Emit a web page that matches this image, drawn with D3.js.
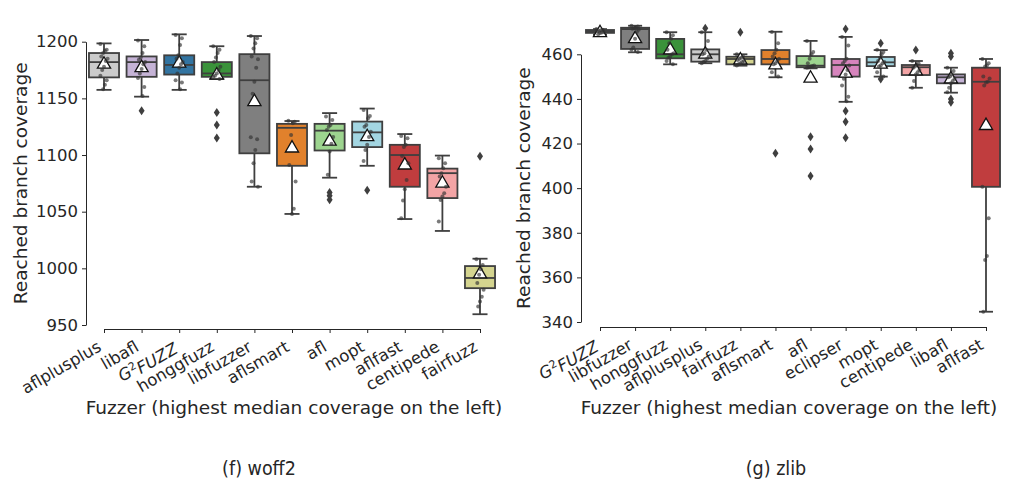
<!DOCTYPE html>
<html>
<head>
<meta charset="utf-8">
<script src="https://d3js.org/d3.v7.min.js"></script>
<style>
  body { margin: 0; background: #fff; }
  svg text { font-family: "DejaVu Sans", sans-serif; fill: #262626; }
  .caption { font-family: "Liberation Sans Narrow", "DejaVu Sans Condensed", sans-serif; }
</style>
</head>
<body>
<div id="chart"></div>
<script>
// ---- woff2 (left) ----
var fuzzersW = ["aflplusplus", "libafl", "G2FUZZ", "honggfuzz", "libfuzzer", "aflsmart", "afl", "mopt", "aflfast", "centipede", "fairfuzz"];
var whisHiW = [1198.5, 1201.5, 1206.5, 1196, 1205, 1130, 1137, 1141, 1118.5, 1099.5, 1008.5];
var q3W     = [1190, 1187, 1188, 1182, 1189, 1127.5, 1127.5, 1129.5, 1109, 1088, 1002];
var medW    = [1182, 1182, 1179.5, 1172, 1166, 1124, 1121.5, 1120, 1100, 1084, 991.5];
var q1W     = [1168.5, 1169, 1171, 1169, 1101.5, 1090.5, 1104, 1107, 1072, 1062, 982.5];
var whisLoW = [1157.5, 1151.5, 1157.5, 1167, 1072, 1048, 1080, 1090.5, 1043.5, 1033, 959.5];
var meanW   = [1180, 1177, 1181, 1170.5, 1147, 1106, 1112, 1116, 1091, 1075, 995];
var outW    = [[], [1139], [], [1137.5, 1126.5, 1115], [], [], [1067, 1064, 1060.5], [1069], [], [], [1099]];
var ptsW = [
  [1198, 1193, 1192, 1190, 1187, 1185, 1183, 1178, 1175, 1170, 1166, 1162, 1158],
  [1201, 1196, 1190, 1186, 1184, 1182, 1180, 1176, 1172, 1168, 1160, 1152],
  [1206, 1203, 1197, 1188, 1185, 1182, 1180, 1177, 1172, 1166, 1164, 1158],
  [1196, 1193, 1190, 1186, 1182, 1178, 1175, 1172, 1170, 1169, 1167],
  [1205, 1203, 1198.6, 1194, 1187, 1184.5, 1177, 1164.7, 1154, 1115.7, 1114, 1104.5, 1092.8, 1076.6, 1072],
  [1130.3, 1129.4, 1128, 1117.7, 1091.3, 1076.6, 1052.5, 1048],
  [1134, 1131, 1126.5, 1125, 1122, 1116, 1110, 1103, 1082.5],
  [1139.8, 1134.5, 1132.5, 1126.5, 1125, 1120.6, 1116, 1109, 1104.5, 1094.8],
  [1116.8, 1114.8, 1109, 1107, 1099.2, 1092.8, 1078, 1069.8, 1059.8, 1044.3],
  [1097.2, 1092.8, 1088.4, 1084, 1081, 1072, 1066.3, 1063.3, 1060.4, 1041.3],
  [1008, 1003, 999.3, 994.3, 987, 981, 975, 970.7, 966.3]
];
var ticksW = [950, 1000, 1050, 1100, 1150, 1200];

// ---- zlib (right) ----
var fuzzersZ = ["G2FUZZ", "libfuzzer", "honggfuzz", "aflplusplus", "fairfuzz", "aflsmart", "afl", "eclipser", "mopt", "centipede", "libafl", "aflfast"];
var whisHiZ = [471.3, 472.8, 469.9, 469.9, 460, 470.1, 466, 467.8, 461.9, 457, 454, 457.9];
var q3Z     = [470.9, 471.9, 466.9, 462.2, 458.9, 461.9, 459.2, 457.9, 458.8, 455.2, 451, 454];
var medZ    = [470.4, 471.3, 460, 460, 457.9, 457.9, 454.9, 455.2, 456.4, 454.2, 449.7, 447.7];
var q1Z     = [469.6, 462.4, 458.2, 456.7, 455.5, 455.5, 454.2, 450, 454.7, 450.7, 447, 400.6];
var whisLoZ = [468.8, 460.9, 455.5, 456, 454.9, 449.7, 453.7, 438.7, 450, 445, 442.8, 344.6];
var meanZ   = [469.6, 466.9, 461.9, 460, 457.4, 455.2, 449.2, 451.5, 455.5, 452.5, 448.9, 428];
var outZ    = [[], [], [], [471.7], [469.9], [415.6], [423, 417.5, 405.4], [471.3, 434.6, 429.8, 422.6], [464.9, 448.9], [461.9], [460.5, 459, 440, 438.5], []];
var ptsZ = [
  [471.3, 471, 470.8, 470.5, 470.3, 470, 469.8, 469.5, 469],
  [472.8, 472.5, 472, 471.8, 471.5, 471, 470, 467, 463, 462, 461],
  [469.9, 468.5, 467, 465, 462, 460.5, 460, 459, 458.5, 457, 455.5],
  [469.9, 466, 462, 460.5, 460, 459, 458, 457, 456.5, 456],
  [460, 459, 458.5, 458, 457.5, 457, 456.5, 456, 455.5, 455],
  [470, 465, 462, 460.5, 459, 458, 457, 456, 455.5, 452, 450],
  [466, 461, 460, 458, 456, 455, 454.8, 454.5, 454.2, 454],
  [467.8, 464, 458, 457, 456, 455, 453, 451, 449, 446, 441, 439],
  [462, 461, 460, 458.5, 457, 456.5, 456, 455, 454.5, 452, 450],
  [457, 456, 455.2, 454.5, 454, 453, 452, 451, 448, 445],
  [454, 452.5, 451, 450, 449.7, 449, 448, 447, 445, 443],
  [457.9, 456, 455, 454.5, 450, 449.2, 447.7, 447.4, 446, 400.6, 386.5, 369.6, 367.8, 344.6]
];
var ticksZ = [340, 360, 380, 400, 420, 440, 460];

var colors = {
  aflplusplus: "#cbcbcb", libafl: "#c5b3d6", G2FUZZ: "#3274a1", honggfuzz: "#3a923a",
  libfuzzer: "#7f7f7f", aflsmart: "#e1812c", afl: "#9dd48f", mopt: "#a3d6e2",
  aflfast: "#c03d3e", centipede: "#f3a4a5", fairfuzz: "#d4d48f", eclipser: "#d684bd"
};
var edge = "#3f3f3f";

var svg = d3.select("#chart").append("svg")
  .attr("width", 1024).attr("height", 497);

function drawPanel(p) {
  var g = svg.append("g");
  var x = d3.scalePoint().domain(p.names).range(p.xRange);
  var y = d3.scaleLinear().domain(d3.extent(p.ticks)).range(p.yRange);
  var boxW = x.step() * 0.8;

  // axes
  var ya = g.append("g").attr("transform", "translate(" + p.yAxisX + ",0)")
    .call(d3.axisLeft(y).tickValues(p.ticks).tickFormat(d3.format("d"))
      .tickSize(4).tickSizeOuter(0).tickPadding(4));
  ya.selectAll("text").style("font-size", "16.5px");
  var xa = g.append("g").attr("transform", "translate(0," + p.xAxisY + ")")
    .call(d3.axisBottom(x).tickSize(4).tickSizeOuter(0));
  xa.selectAll("text")
    .style("font-size", "16.5px")
    .attr("text-anchor", "end").attr("dy", null).attr("y", 0).attr("x", 0)
    .attr("transform", "translate(-2,21) rotate(-30)");
  xa.selectAll("text").filter(d => d === "G2FUZZ").each(function() {
    var t = d3.select(this).text(null);
    t.append("tspan").style("font-style", "italic").text("G");
    t.append("tspan").attr("dy", "-0.45em").style("font-size", "11px").text("2");
    t.append("tspan").attr("dy", "0.45em").style("font-style", "italic").text("FUZZ");
  });
  [ya, xa].forEach(a => {
    a.selectAll("path,line").attr("stroke", "#262626").attr("stroke-width", 1);
  });

  g.append("text").attr("transform", "translate(" + p.yLabelX + "," + (d3.mean(p.yRange)) + ") rotate(-90)")
    .attr("text-anchor", "middle").style("font-size", "18.5px").text("Reached branch coverage");
  g.append("text").attr("x", p.xLabelX).attr("y", 414)
    .attr("text-anchor", "middle").style("font-size", "18.5px")
    .text("Fuzzer (highest median coverage on the left)");
  g.append("text").attr("class", "caption").attr("x", p.captionX).attr("y", 475)
    .attr("text-anchor", "middle").style("font-size", "19.5px").text(p.caption);

  p.names.forEach(function(name, i) {
    var cx = x(name);
    var b = g.append("g");
    // whiskers
    b.append("line").attr("x1", cx).attr("x2", cx).attr("y1", y(p.q3[i])).attr("y2", y(p.whisHi[i]));
    b.append("line").attr("x1", cx).attr("x2", cx).attr("y1", y(p.q1[i])).attr("y2", y(p.whisLo[i]));
    b.append("line").attr("x1", cx - boxW / 4).attr("x2", cx + boxW / 4).attr("y1", y(p.whisHi[i])).attr("y2", y(p.whisHi[i]));
    b.append("line").attr("x1", cx - boxW / 4).attr("x2", cx + boxW / 4).attr("y1", y(p.whisLo[i])).attr("y2", y(p.whisLo[i]));
    b.append("rect")
      .attr("x", cx - boxW / 2).attr("width", boxW)
      .attr("y", y(p.q3[i])).attr("height", Math.max(1, y(p.q1[i]) - y(p.q3[i])))
      .attr("fill", colors[name]);
    b.append("line").attr("x1", cx - boxW / 2).attr("x2", cx + boxW / 2).attr("y1", y(p.med[i])).attr("y2", y(p.med[i]));
    b.selectAll("line,rect").attr("stroke", edge).attr("stroke-width", 1.8);

    // outliers
    b.selectAll(".fl").data(p.outliers[i]).enter().append("path")
      .attr("d", "M0,-4.5L3,0L0,4.5L-3,0Z")
      .attr("transform", d => "translate(" + cx + "," + y(d) + ")")
      .attr("fill", edge);

    // mean
    b.append("path").attr("d", d3.symbol(d3.symbolTriangle, 75)())
      .attr("transform", "translate(" + cx + "," + y(p.means[i]) + ")")
      .attr("fill", "#fff").attr("stroke", "#111").attr("stroke-width", 1.3);

    // strip points
    b.selectAll(".pt").data(p.points[i]).enter().append("circle")
      .attr("cx", (d, j) => cx + (((j * 7) % 9) - 4) * 0.9)
      .attr("cy", d => y(d))
      .attr("r", 2)
      .attr("fill", "#333").attr("fill-opacity", 0.65);
  });
}

drawPanel({
  names: fuzzersW, whisHi: whisHiW, q3: q3W, med: medW, q1: q1W, whisLo: whisLoW,
  means: meanW, outliers: outW, points: ptsW, ticks: ticksW,
  xRange: [104, 480], yRange: [325, 41.7], yAxisX: 86, xAxisY: 329,
  yLabelX: 27, xLabelX: 294, caption: "(f) woff2", captionX: 259
});
drawPanel({
  names: fuzzersZ, whisHi: whisHiZ, q3: q3Z, med: medZ, q1: q1Z, whisLo: whisLoZ,
  means: meanZ, outliers: outZ, points: ptsZ, ticks: ticksZ,
  xRange: [600, 986], yRange: [322, 54.3], yAxisX: 581, xAxisY: 327,
  yLabelX: 530, xLabelX: 789, caption: "(g) zlib", captionX: 776
});
</script>
</body>
</html>
